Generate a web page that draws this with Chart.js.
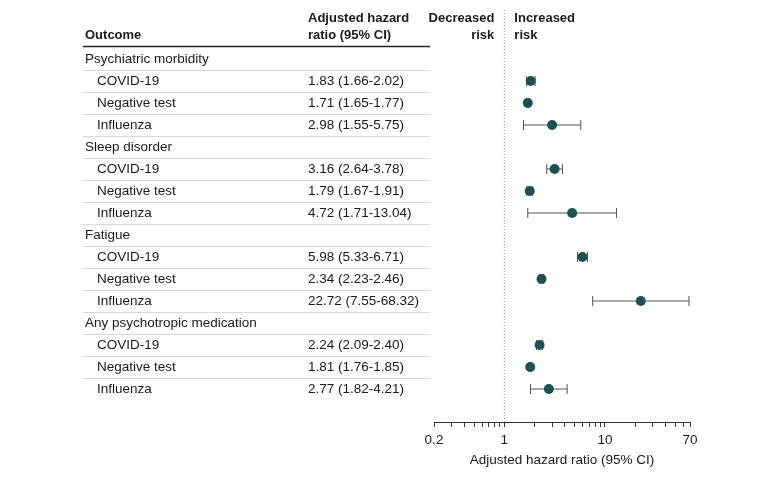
<!DOCTYPE html>
<html lang="en">
<head>
    <meta charset="UTF-8">
    <title>Adjusted hazard ratios</title>
    <script src="https://cdn.jsdelivr.net/npm/chart.js"></script>
    <style>
        body { margin: 0; background: #fff; }
        #wrap { width: 780px; height: 479px; }
    </style>
</head>
<body>
    <div id="wrap"><canvas id="forest"></canvas></div>

    <script>
        // data
        const outcomes = ['Psychiatric morbidity', 'Sleep disorder', 'Fatigue', 'Any psychotropic medication'];
        const groups = ['COVID-19', 'Negative test', 'Influenza'];
        const hr = [
            [1.83, 1.71, 2.98],
            [3.16, 1.79, 4.72],
            [5.98, 2.34, 22.72],
            [2.24, 1.81, 2.77]
        ];
        const lower = [
            [1.66, 1.65, 1.55],
            [2.64, 1.67, 1.71],
            [5.33, 2.23, 7.55],
            [2.09, 1.76, 1.82]
        ];
        const upper = [
            [2.02, 1.77, 5.75],
            [3.78, 1.91, 13.04],
            [6.71, 2.46, 68.32],
            [2.40, 1.85, 4.21]
        ];
        const tickValues = [0.2, 0.3, 0.4, 0.5, 0.6, 0.7, 0.8, 0.9, 1, 2, 3, 4, 5, 6, 7, 8, 9, 10, 20, 30, 40, 50, 60, 70];
        const tickLabels = [0.2, 1, 10, 70];

        const textColor = '#1a1a1a';
        const regular = '13.5px "Liberation Sans", Arial, sans-serif';
        const bold = 'bold 13px "Liberation Sans", Arial, sans-serif';

        // one row per outcome header, then one per group
        const rows = [];
        outcomes.forEach((name, i) => {
            rows.push({ label: name, header: true });
            groups.forEach((g, j) => {
                rows.push({
                    label: g,
                    header: false,
                    hr: hr[i][j],
                    lo: lower[i][j],
                    hi: upper[i][j],
                    text: hr[i][j].toFixed(2) + ' (' + lower[i][j].toFixed(2) + '-' + upper[i][j].toFixed(2) + ')'
                });
            });
        });

        const points = [];
        rows.forEach((r, idx) => {
            if (!r.header) points.push({ x: r.hr, y: idx });
        });

        const forestPlugin = {
            id: 'forest',
            beforeDatasetsDraw(chart) {
                const ctx = chart.ctx;
                const x = chart.scales.x;
                const y = chart.scales.y;
                ctx.save();
                // reference line at 1
                const x1 = x.getPixelForValue(1);
                ctx.strokeStyle = '#8c8c8c';
                ctx.lineWidth = 1;
                ctx.setLineDash([1, 2]);
                ctx.beginPath();
                ctx.moveTo(x1, 10);
                ctx.lineTo(x1, chart.chartArea.bottom);
                ctx.stroke();
                ctx.setLineDash([]);
                // confidence intervals
                ctx.strokeStyle = '#555';
                rows.forEach((r, idx) => {
                    if (r.header) return;
                    const py = y.getPixelForValue(idx);
                    const a = x.getPixelForValue(r.lo);
                    const b = x.getPixelForValue(r.hi);
                    ctx.beginPath();
                    ctx.moveTo(a, py);
                    ctx.lineTo(b, py);
                    ctx.moveTo(a, py - 5);
                    ctx.lineTo(a, py + 5);
                    ctx.moveTo(b, py - 5);
                    ctx.lineTo(b, py + 5);
                    ctx.stroke();
                });
                ctx.restore();
            },
            afterDraw(chart) {
                const ctx = chart.ctx;
                const x = chart.scales.x;
                const y = chart.scales.y;
                const x1 = x.getPixelForValue(1);
                ctx.save();
                ctx.fillStyle = textColor;
                ctx.textBaseline = 'middle';

                // column headers
                ctx.font = bold;
                ctx.textAlign = 'left';
                ctx.fillText('Outcome', 85, 35);
                ctx.fillText('Adjusted hazard', 308, 18);
                ctx.fillText('ratio (95% CI)', 308, 35);
                ctx.fillText('Increased', x1 + 10, 18);
                ctx.fillText('risk', x1 + 10, 35);
                ctx.textAlign = 'right';
                ctx.fillText('Decreased', x1 - 10, 18);
                ctx.fillText('risk', x1 - 10, 35);

                ctx.strokeStyle = '#222';
                ctx.lineWidth = 1.5;
                ctx.beginPath();
                ctx.moveTo(83, 46.5);
                ctx.lineTo(430, 46.5);
                ctx.stroke();

                // table rows
                ctx.font = regular;
                ctx.textAlign = 'left';
                ctx.strokeStyle = '#d9d9d9';
                ctx.lineWidth = 1;
                rows.forEach((r, idx) => {
                    const py = y.getPixelForValue(idx);
                    ctx.fillText(r.label, r.header ? 85 : 97, py);
                    if (!r.header) ctx.fillText(r.text, 308, py);
                    if (idx < rows.length - 1) {
                        ctx.beginPath();
                        ctx.moveTo(83, Math.round(py + 11) + 0.5);
                        ctx.lineTo(430, Math.round(py + 11) + 0.5);
                        ctx.stroke();
                    }
                });
                ctx.restore();
            }
        };

        new Chart(document.getElementById('forest'), {
            type: 'scatter',
            data: {
                datasets: [{
                    data: points,
                    backgroundColor: '#1f5050',
                    borderWidth: 0,
                    pointRadius: 5,
                    pointHoverRadius: 5
                }]
            },
            options: {
                responsive: true,
                maintainAspectRatio: false,
                animation: false,
                layout: { padding: { left: 434, right: 90, top: 15, bottom: 0 } },
                plugins: {
                    legend: { display: false },
                    tooltip: { enabled: false }
                },
                scales: {
                    x: {
                        type: 'logarithmic',
                        position: 'bottom',
                        min: 0.2,
                        max: 70,
                        afterBuildTicks(scale) {
                            scale.ticks = tickValues.map(v => ({ value: v }));
                        },
                        afterFit(scale) {
                            scale.height = 57;
                        },
                        ticks: {
                            autoSkip: false,
                            maxRotation: 0,
                            padding: 5,
                            color: textColor,
                            font: { family: '"Liberation Sans", Arial, sans-serif', size: 13.5 },
                            callback: v => tickLabels.includes(v) ? String(v) : ''
                        },
                        grid: {
                            drawOnChartArea: false,
                            drawTicks: true,
                            tickLength: 5,
                            color: '#333'
                        },
                        border: { display: true, color: '#333', width: 1 },
                        title: {
                            display: true,
                            text: 'Adjusted hazard ratio (95% CI)',
                            color: textColor,
                            font: { family: '"Liberation Sans", Arial, sans-serif', size: 13.5 },
                            padding: { top: 0, bottom: 11 }
                        }
                    },
                    y: {
                        type: 'linear',
                        display: false,
                        reverse: true,
                        min: -2,
                        max: 16.5
                    }
                }
            },
            plugins: [forestPlugin]
        });
    </script>
</body>
</html>
